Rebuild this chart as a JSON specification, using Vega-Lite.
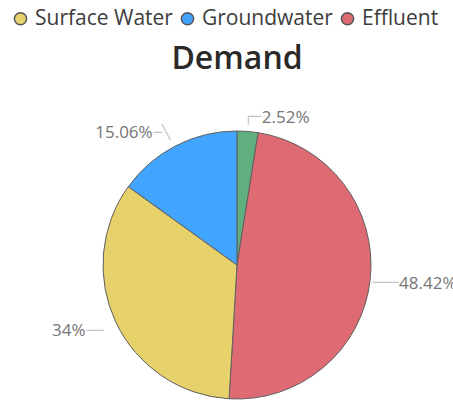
{
  "$schema": "https://vega.github.io/schema/vega-lite/v6.json",
  "width": 432,
  "height": 274,
  "autosize": "none",
  "padding": {"left": 21, "top": 128, "right": 0, "bottom": 0},
  "background": "white",
  "config": {"view": {"stroke": null}, "font": "Open Sans"},
  "title": {"text": "Demand", "fontSize": 32, "fontWeight": 600, "color": "#2b2a29", "font": "Open Sans", "anchor": "middle", "offset": -11, "dy": 57},
  "data": {"values": [
    {"category": "Other", "share": 0.0252, "i": 1},
    {"category": "Effluent", "share": 0.4842, "i": 2},
    {"category": "Surface Water", "share": 0.34, "i": 3},
    {"category": "Groundwater", "share": 0.1506, "i": 4}
  ]},
  "encoding": {
    "theta": {"field": "share", "type": "quantitative", "stack": true},
    "order": {"field": "i", "type": "quantitative"}
  },
  "layer": [
    {
      "mark": {"type": "arc", "radius": 134, "stroke": "#5f5f5f", "strokeWidth": 1},
      "encoding": {
        "color": {
          "field": "category", "type": "nominal",
          "scale": {"domain": ["Surface Water", "Groundwater", "Effluent", "Other"], "range": ["#E6D16A", "#41A4FF", "#DE6A73", "#5FAF7F"]},
          "legend": {"orient": "none", "legendX": -11, "legendY": -120, "direction": "horizontal", "title": null,
            "values": ["Surface Water", "Groundwater", "Effluent"],
            "labelFontSize": 21, "labelColor": "#3c3c3c", "labelFont": "Open Sans",
            "symbolType": "circle", "symbolSize": 150, "symbolStrokeColor": "#555555", "symbolStrokeWidth": 1.5,
            "labelOffset": 4, "columnPadding": 4}
        }
      }
    },
    {
      "mark": {"type": "text", "radius": 150, "align": "right", "dx": 12, "dy": 2, "fontSize": 14, "color": "#c4c4c4", "font": "DejaVu Sans Mono"},
      "encoding": {
        "text": {"condition": [
          {"test": "datum.category === 'Other'", "value": "┌─"},
          {"test": "datum.category === 'Effluent'", "value": "───"}
        ], "value": ""}
      }
    },
    {
      "mark": {"type": "text", "radius": 150, "align": "left", "dx": -15, "dy": 2, "fontSize": 14, "color": "#c4c4c4", "font": "DejaVu Sans Mono"},
      "encoding": {
        "text": {"condition": [
          {"test": "datum.category === 'Groundwater'", "value": "─╲"},
          {"test": "datum.category === 'Surface Water'", "value": "──"}
        ], "value": ""}
      }
    },
    {
      "mark": {"type": "text", "radius": 150, "align": "left", "dx": 13, "dy": 3, "fontSize": 17, "color": "#767676", "font": "Open Sans"},
      "encoding": {
        "text": {"condition": {"test": "datum.category === 'Other' || datum.category === 'Effluent'", "field": "share", "type": "quantitative", "format": ".2~%"}, "value": ""}
      }
    },
    {
      "mark": {"type": "text", "radius": 150, "align": "right", "dx": -16, "dy": 2, "fontSize": 17, "color": "#767676", "font": "Open Sans"},
      "encoding": {
        "text": {"condition": {"test": "datum.category === 'Surface Water' || datum.category === 'Groundwater'", "field": "share", "type": "quantitative", "format": ".2~%"}, "value": ""}
      }
    }
  ]
}
